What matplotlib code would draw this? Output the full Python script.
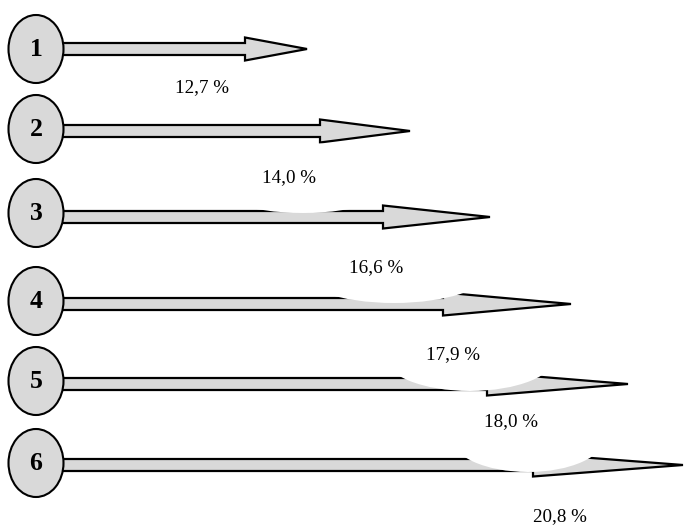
import matplotlib
matplotlib.use("Agg")
import matplotlib.pyplot as plt
import matplotlib.patches as mpatches

# data
steps = ["1", "2", "3", "4", "5", "6"]
shares = [12.7, 14.0, 16.6, 17.9, 18.0, 20.8]

# layout (pixel units, y grows downward)
row_y = [49, 131, 217, 304, 384, 465]
circle_y = [49, 129, 213, 301, 381, 463]
arrow_tip_x = [307, 410, 490, 571, 628, 683]
head_len = [62, 90, 107, 128, 141, 150]
label_xy = [(202, 88), (289, 178), (376, 268), (453, 355), (511, 422), (560, 517)]
# white label backgrounds that bite into the arrow below
blobs = [(303, 178, 200, 70), (394, 268, 198, 70), (470, 356, 172, 70), (528, 437, 154, 70)]

fill = "#d9d9d9"
circle_x = 36

fig = plt.figure(figsize=(6.84, 5.27), dpi=100)
ax = fig.add_axes([0, 0, 1, 1])
ax.set_xlim(0, 684)
ax.set_ylim(527, 0)
ax.axis("off")

for i, s in enumerate(steps):
    y = row_y[i]
    arr = mpatches.FancyArrow(circle_x, y, arrow_tip_x[i] - circle_x, 0,
                              width=12, head_width=23, head_length=head_len[i],
                              length_includes_head=True,
                              facecolor=fill, edgecolor="black", linewidth=1.6,
                              joinstyle="miter", zorder=1)
    ax.add_patch(arr)
    circ = mpatches.Ellipse((circle_x, circle_y[i]), 55, 68, facecolor=fill,
                            edgecolor="black", linewidth=1.5, zorder=3)
    ax.add_patch(circ)
    ax.text(circle_x, circle_y[i] + 1, s, ha="center", va="center",
            fontsize=18.5, fontweight="bold", family="Liberation Serif", zorder=4)

for (cx, cy, w, h) in blobs:
    ax.add_patch(mpatches.Ellipse((cx, cy), w, h, facecolor="white",
                                  edgecolor="none", zorder=2))

for (lx, ly), v in zip(label_xy, shares):
    txt = f"{v:.1f}".replace(".", ",") + " %"
    ax.text(lx, ly, txt, ha="center", va="center", fontsize=13.7,
            family="Liberation Serif", zorder=5)

fig.savefig("out.png", dpi=100)
